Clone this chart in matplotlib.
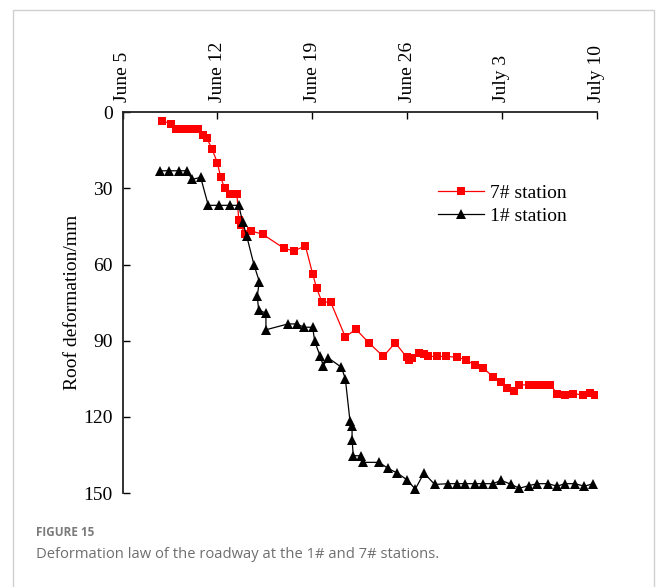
import matplotlib.pyplot as plt
from matplotlib.lines import Line2D


OUT_PATH = "out.png"

# Days counted from June 5 (monitoring start)
DATE_TICKS = [0, 7, 14, 21, 28, 35]
DATE_LABELS = ["June 5", "June 12", "June 19", "June 26", "July 3", "July 10"]

# 7# station roof deformation (mm)
STATION7_DAY = [
    2.88, 3.54, 3.94, 4.48, 5.02, 5.56, 5.96, 6.20, 6.60, 6.99,
    7.24, 7.53, 7.92, 8.44, 8.57, 8.71, 9.06, 9.50, 10.34, 11.91,
    12.65, 13.49, 14.03, 14.32, 14.72, 15.36, 16.44, 17.23, 18.17, 19.25,
    20.13, 20.97, 21.12, 21.36, 21.86, 22.25, 22.55, 23.19, 23.88, 24.67,
    25.35, 26.00, 26.63, 27.33, 27.96, 28.40, 28.90, 29.29, 29.98, 30.52,
    31.02, 31.56, 32.10, 32.64, 33.28, 33.97, 34.51, 34.86,
]
STATION7_MM = [
    3.4, 4.5, 6.7, 6.7, 6.7, 6.7, 8.9, 10.1, 14.5, 19.9,
    25.7, 30.0, 32.4, 32.4, 42.5, 44.4, 48.1, 46.8, 48.1, 53.6,
    54.7, 52.6, 63.7, 69.3, 74.8, 74.8, 88.5, 85.5, 90.8, 96.2,
    90.8, 96.5, 97.5, 97.0, 94.9, 95.4, 96.2, 96.2, 96.2, 96.5,
    97.5, 99.6, 100.8, 104.1, 106.2, 108.5, 109.7, 107.4, 107.4, 107.4,
    107.4, 107.4, 110.8, 111.4, 110.8, 111.4, 110.6, 111.5,
]

# 1# station roof deformation (mm)
STATION1_DAY = [
    2.75, 3.40, 4.18, 4.73, 5.12, 5.76, 6.32, 7.13, 7.92, 8.57,
    8.86, 9.16, 9.70, 10.09, 9.94, 10.04, 10.58, 10.58, 12.21, 12.85,
    13.39, 14.03, 14.18, 14.57, 14.82, 15.16, 16.14, 16.44, 16.79, 16.94,
    16.94, 17.03, 17.62, 17.77, 18.95, 19.59, 20.28, 20.97, 21.61, 22.25,
    23.04, 24.03, 24.67, 25.31, 26.00, 26.63, 27.33, 27.96, 28.70, 29.29,
    29.98, 30.62, 31.41, 32.10, 32.64, 33.43, 34.07, 34.76,
]
STATION1_MM = [
    23.1, 23.1, 23.1, 23.1, 26.5, 25.7, 36.7, 36.7, 36.7, 36.7,
    43.3, 48.8, 60.2, 66.7, 72.4, 77.9, 79.2, 85.7, 83.4, 83.4,
    84.7, 84.7, 90.2, 95.9, 99.9, 96.7, 100.4, 104.9, 121.8, 123.7,
    129.0, 135.3, 135.3, 137.9, 137.9, 140.3, 142.1, 144.7, 148.4, 142.1,
    146.6, 146.3, 146.3, 146.3, 146.3, 146.3, 146.3, 145.0, 146.6, 148.1,
    147.1, 146.3, 146.3, 147.3, 146.3, 146.3, 147.3, 146.3,
]

Y_TICKS = [0, 30, 60, 90, 120, 150]

SERIF = ["Liberation Serif", "DejaVu Serif"]


def draw_frame(fig):
    # light page border around figure and caption
    w, h = fig.get_size_inches() * fig.dpi
    xs = [13 / w, 13 / w, 654 / w, 654 / w]
    ys = [0.0, 1 - 10 / h, 1 - 10 / h, 0.0]
    fig.add_artist(Line2D(xs, ys, color="#d0d0d0", linewidth=1.0,
                          transform=fig.transFigure))


def main():
    fig = plt.figure(figsize=(6.56, 5.87), dpi=100)
    ax = fig.add_axes([0.187, 0.160, 0.7225, 0.649])

    ax.plot(STATION7_DAY, STATION7_MM, color="#ff0000", linewidth=0.9,
            marker="s", markersize=5.2, markeredgewidth=0,
            label="7# station")
    ax.plot(STATION1_DAY, STATION1_MM, color="black", linewidth=0.9,
            marker="^", markersize=6.5, markeredgewidth=0,
            label="1# station")

    ax.set_xlim(DATE_TICKS[0], DATE_TICKS[-1])
    ax.set_ylim(150, 0)

    ax.xaxis.tick_top()
    ax.set_xticks(DATE_TICKS)
    ax.set_xticklabels(DATE_LABELS, rotation=90, family=SERIF, fontsize=14)
    ax.set_yticks(Y_TICKS)
    ax.set_yticklabels([str(v) for v in Y_TICKS], family=SERIF, fontsize=14)
    ax.tick_params(direction="in", length=5, width=1.0, pad=7)

    for side in ("bottom", "right"):
        ax.spines[side].set_visible(False)
    for side in ("top", "left"):
        ax.spines[side].set_linewidth(1.3)
        ax.spines[side].set_color("#222222")

    ax.set_ylabel("Roof deformation/mm", family=SERIF, fontsize=14,
                  labelpad=2)

    ax.legend(loc="upper left", bbox_to_anchor=(0.648, 0.83), frameon=False,
              prop={"family": SERIF, "size": 14}, handlelength=2.4,
              handletextpad=0.3, labelspacing=0.25, borderaxespad=0)

    fig.text(36 / 656, 1 - 533 / 587, "FIGURE 15", family="Open Sans",
             fontsize=8.5, fontweight="bold", color="#7a7a7a", va="center")
    fig.text(36 / 656, 1 - 554 / 587,
             "Deformation law of the roadway at the 1# and 7# stations.",
             family="Open Sans", fontsize=10.6, color="#6e6e6e", va="center")

    draw_frame(fig)

    fig.savefig(OUT_PATH, dpi=100)
    plt.close(fig)


if __name__ == "__main__":
    main()
